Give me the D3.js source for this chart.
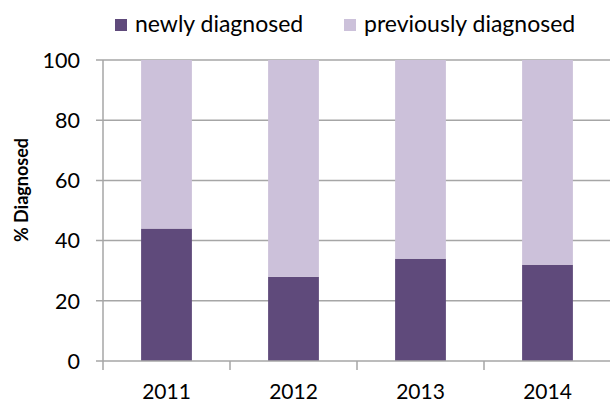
<!DOCTYPE html>
<html><head><meta charset="utf-8">
<script src="https://cdn.jsdelivr.net/npm/d3@7"></script>
<style>body{margin:0;background:#fff}svg{display:block}text{font-family:Lato,"Open Sans",sans-serif;fill:#000}</style>
</head><body>
<svg id="c" width="610" height="403"></svg>
<script>
const years = ["2011","2012","2013","2014"];
const newly = [44, 28, 34, 32];
const previously = [56, 72, 66, 68];
const yTicks = [0, 20, 40, 60, 80, 100];
const seriesNames = ["newly diagnosed", "previously diagnosed"];
const colors = ["#5f4a7b", "#ccc1da"];

const svg = d3.select("#c");
const pLeft = 103, pRight = 611, pTop = 60, pBottom = 361;
const x = d3.scaleBand().domain(years).range([pLeft, pRight]).padding(0);
const y = d3.scaleLinear().domain([0, 100]).range([pBottom, pTop]);
const gridColor = "#a6a6a6";

// gridlines
svg.append("g").selectAll("line").data(yTicks.filter(d => d > 0)).join("line")
  .attr("x1", pLeft - 7).attr("x2", 610)
  .attr("y1", d => y(d)).attr("y2", d => y(d))
  .attr("stroke", gridColor).attr("stroke-width", 1.5);

const stack = d3.stack().keys([0, 1]).value((d, k) => k === 0 ? d.n : d.p);
const rows = years.map((yr, i) => ({yr, n: newly[i], p: previously[i]}));
const layers = stack(rows);
const bw = x.bandwidth() * 0.4;
svg.append("g").selectAll("g").data(layers).join("g")
  .attr("fill", (d, i) => colors[i])
  .selectAll("rect").data(d => d).join("rect")
  .attr("x", d => x(d.data.yr) + (x.bandwidth() - bw) / 2)
  .attr("width", bw)
  .attr("y", d => y(d[1]))
  .attr("height", d => y(d[0]) - y(d[1]));

// axes
svg.append("line").attr("x1", pLeft).attr("x2", pLeft).attr("y1", pTop).attr("y2", pBottom + 9)
  .attr("stroke", gridColor).attr("stroke-width", 1.5);
svg.append("line").attr("x1", pLeft - 7).attr("x2", 610).attr("y1", pBottom).attr("y2", pBottom)
  .attr("stroke", gridColor).attr("stroke-width", 1.5);
svg.append("g").selectAll("line").data(years.slice(1)).join("line")
  .attr("x1", d => x(d)).attr("x2", d => x(d))
  .attr("y1", pBottom).attr("y2", pBottom + 9)
  .attr("stroke", gridColor).attr("stroke-width", 1.5);

svg.append("g").selectAll("text").data(yTicks).join("text")
  .attr("x", 80).attr("y", d => y(d)).attr("dy", "0.36em")
  .attr("text-anchor", "end").style("font-size", "21.5px")
  .text(d => d);

svg.append("g").selectAll("text").data(years).join("text")
  .attr("x", d => x(d) + x.bandwidth() / 2).attr("y", 398.5)
  .attr("text-anchor", "middle").style("font-size", "21px")
  .text(d => d);

svg.append("text").attr("transform", "translate(28,190) rotate(-90)")
  .attr("text-anchor", "middle").style("font-size", "18px").style("font-weight", "bold")
  .text("% Diagnosed");

// legend
const legX = [115, 344];
const lg = svg.append("g").selectAll("g").data(seriesNames).join("g")
  .attr("transform", (d, i) => `translate(${legX[i]},0)`);
lg.append("rect").attr("x", 0).attr("y", 19).attr("width", 12).attr("height", 12)
  .attr("fill", (d, i) => colors[i]);
lg.append("text").attr("x", 20).attr("y", 32).style("font-size", "23px").text(d => d);
</script>
</body></html>
